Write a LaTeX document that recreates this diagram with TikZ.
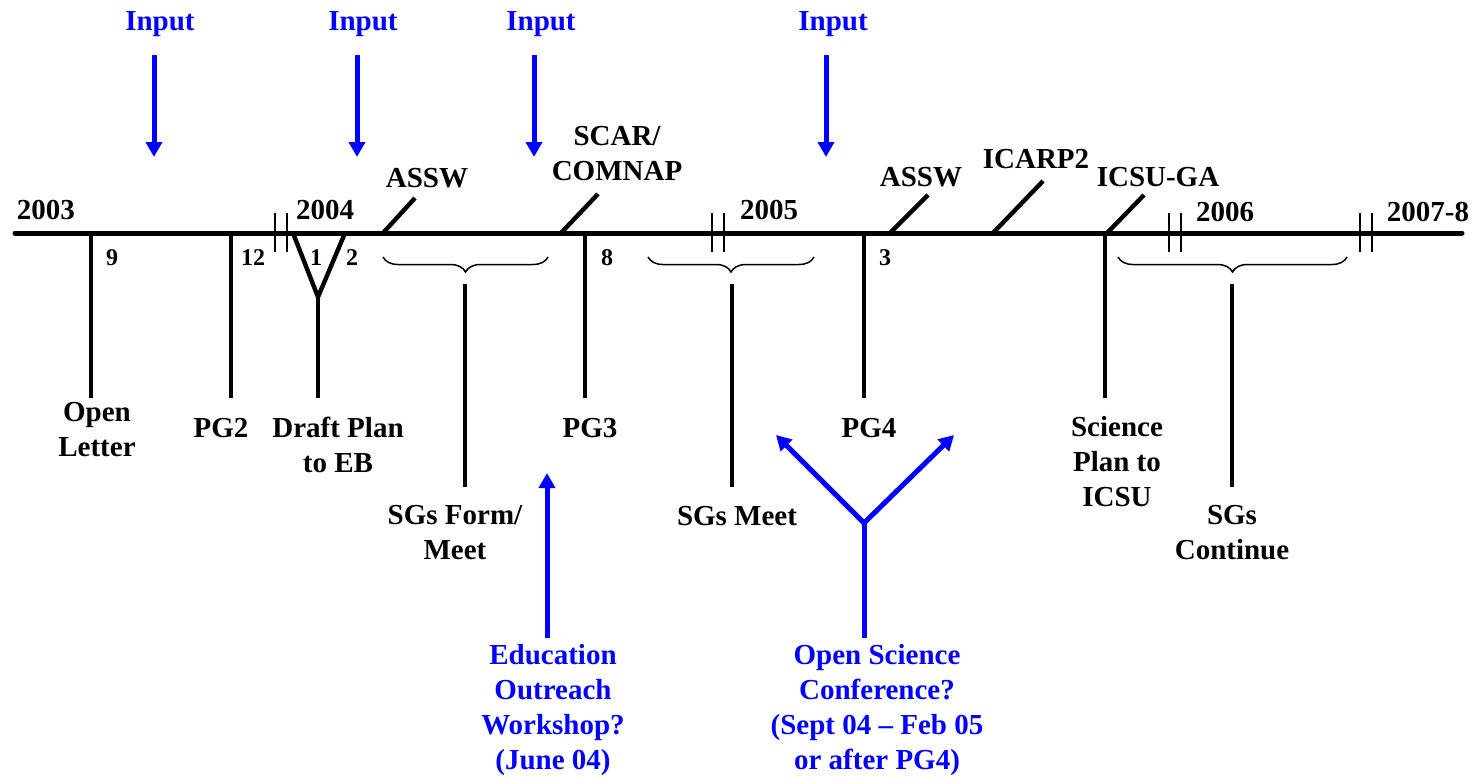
\documentclass[tikz,border=0pt]{standalone}
\usepackage{fontspec}
\setmainfont{Liberation Serif}
\usetikzlibrary{decorations.pathreplacing,arrows.meta}
\begin{document}
\begin{tikzpicture}[x=0.5pt,y=-0.5pt,
  lbl/.style={font=\fontsize{14.5}{17.5}\selectfont\bfseries, inner sep=0pt, align=center},
  num/.style={font=\fontsize{12}{14}\selectfont\bfseries, inner sep=0pt, anchor=base},
  blab/.style={lbl, text=blue},
  axisline/.style={line width=2.5pt, line cap=round},
  tickline/.style={line width=2.2pt},
  brkline/.style={line width=1.1pt},
  bracedeco/.style={decorate, decoration={brace, amplitude=7.5pt, mirror}, line width=0.75pt},
  bluearrow/.style={draw=blue, line width=2.5pt, -{Triangle[length=7.5pt,width=8pt]}},
  blueline/.style={draw=blue, line width=2.5pt},
]
\useasboundingbox (0,0) rectangle (1475,777);

% timeline
\coordinate (L) at (15,233);
\coordinate (R) at (1462,233);
\draw[axisline] (L) -- (R);

% break marks
\foreach \bx/\nm in {275/a,287/b,712/c,724/d,1169/e,1181/f,1360/g,1372/h}{
  \coordinate (bt\nm) at (\bx,213);
  \coordinate (bb\nm) at (\bx,252);
  \draw[brkline] (bt\nm) -- (bb\nm);
}

% year labels
\node[lbl, anchor=base] (y2003) at (46,219) {2003};
\node[lbl, anchor=base] (y2004) at (325,219) {2004};
\node[lbl, anchor=base] (y2005) at (769,219) {2005};
\node[lbl, anchor=base] (y2006) at (1225,221) {2006};
\node[lbl, anchor=base] (y2007) at (1428,221) {2007-8};

% downward ticks
\coordinate (t9) at (91,233);   \coordinate (t9e) at (91,398);
\coordinate (t12) at (231,233); \coordinate (t12e) at (231,398);
\coordinate (t8) at (585,233);  \coordinate (t8e) at (585,398);
\coordinate (t3) at (864,233);  \coordinate (t3e) at (864,398);
\coordinate (tsp) at (1105,233); \coordinate (tspe) at (1105,398);
\draw[tickline] (t9) -- (t9e);
\draw[tickline] (t12) -- (t12e);
\draw[tickline] (t8) -- (t8e);
\draw[tickline] (t3) -- (t3e);
\draw[tickline] (tsp) -- (tspe);

% V for draft plan
\coordinate (v1) at (293,233);
\coordinate (v2) at (345,233);
\coordinate (vj) at (318,297);
\coordinate (ve) at (318,398);
\draw[tickline, line join=miter] (v1) -- (vj) -- (v2);
\draw[tickline] (vj) -- (ve);

% month numbers
\node[num] (n9) at (112,265) {9};
\node[num] (n12) at (253,265) {12};
\node[num] (n1) at (316,265) {1};
\node[num] (n2) at (352,265) {2};
\node[num] (n8) at (607,265) {8};
\node[num] (n3) at (885,265) {3};

% diagonal ticks upward
\coordinate (d1a) at (383,233); \coordinate (d1b) at (415,198);
\coordinate (d2a) at (561,233); \coordinate (d2b) at (598,194);
\coordinate (d3a) at (890,233); \coordinate (d3b) at (928,195);
\coordinate (d4a) at (993,233); \coordinate (d4b) at (1043,181);
\coordinate (d5a) at (1107,233); \coordinate (d5b) at (1144,195);
\draw[tickline] (d1a) -- (d1b);
\draw[tickline] (d2a) -- (d2b);
\draw[tickline] (d3a) -- (d3b);
\draw[tickline] (d4a) -- (d4b);
\draw[tickline] (d5a) -- (d5b);

\node[lbl, anchor=base] (assw1) at (427,187) {ASSW};
\node[lbl] (scar) at (617,154) {SCAR/\\COMNAP};
\node[lbl, anchor=base] (assw2) at (921,186) {ASSW};
\node[lbl, anchor=base] (icarp) at (1036,168) {ICARP2};
\node[lbl, anchor=base] (icsuga) at (1158,186) {ICSU-GA};

% bottom labels
\node[lbl] (open) at (97,430) {Open\\Letter};
\node[lbl, anchor=base] (pg2) at (221,437) {PG2};
\node[lbl] (draft) at (338,445) {Draft Plan\\to EB};
\node[lbl, anchor=base] (pg3) at (590,437) {PG3};
\node[lbl, anchor=base] (pg4) at (869,437) {PG4};
\node[lbl] (sci) at (1117,462) {Science\\Plan to\\ICSU};

% braces
\coordinate (br1a) at (383,257); \coordinate (br1b) at (548,257);
\coordinate (br2a) at (648,257); \coordinate (br2b) at (814,257);
\coordinate (br3a) at (1118,257); \coordinate (br3b) at (1347,257);
\draw[bracedeco] (br1a) -- (br1b);
\draw[bracedeco] (br2a) -- (br2b);
\draw[bracedeco] (br3a) -- (br3b);
\coordinate (s1a) at (465,284); \coordinate (s1b) at (465,487);
\coordinate (s2a) at (732,284); \coordinate (s2b) at (732,487);
\coordinate (s3a) at (1232,284); \coordinate (s3b) at (1232,487);
\draw[tickline] (s1a) -- (s1b);
\draw[tickline] (s2a) -- (s2b);
\draw[tickline] (s3a) -- (s3b);
\node[lbl] (sg1) at (455,533) {SGs Form/\\Meet};
\node[lbl, anchor=base] (sg2) at (737,525) {SGs Meet};
\node[lbl] (sg3) at (1232,533) {SGs\\Continue};

% inputs
\node[blab, anchor=base] (in1) at (160,30) {Input};
\node[blab, anchor=base] (in2) at (363,30) {Input};
\node[blab, anchor=base] (in3) at (541,30) {Input};
\node[blab, anchor=base] (in4) at (833,30) {Input};
\coordinate (i1a) at (154,55); \coordinate (i1b) at (154,157);
\coordinate (i2a) at (357,55); \coordinate (i2b) at (357,157);
\coordinate (i3a) at (534,55); \coordinate (i3b) at (534,157);
\coordinate (i4a) at (826,55); \coordinate (i4b) at (826,157);
\draw[bluearrow] (i1a) -- (i1b);
\draw[bluearrow] (i2a) -- (i2b);
\draw[bluearrow] (i3a) -- (i3b);
\draw[bluearrow] (i4a) -- (i4b);

% education outreach
\node[blab] (edu) at (553,710) {Education\\Outreach\\Workshop?\\(June 04)};
\coordinate (e1) at (547,638); \coordinate (e2) at (547,473);
\draw[bluearrow] (e1) -- (e2);

% open science conference
\node[blab] (osc) at (877,710) {Open Science\\Conference?\\(Sept 04 -- Feb 05\\or after PG4)};
\coordinate (o1) at (864,638); \coordinate (oj) at (864,523);
\coordinate (oL) at (776,435); \coordinate (oR) at (954,435);
\draw[blueline] (o1) -- (oj);
\draw[bluearrow] (oj) -- (oL);
\draw[bluearrow] (oj) -- (oR);
\end{tikzpicture}
\end{document}
